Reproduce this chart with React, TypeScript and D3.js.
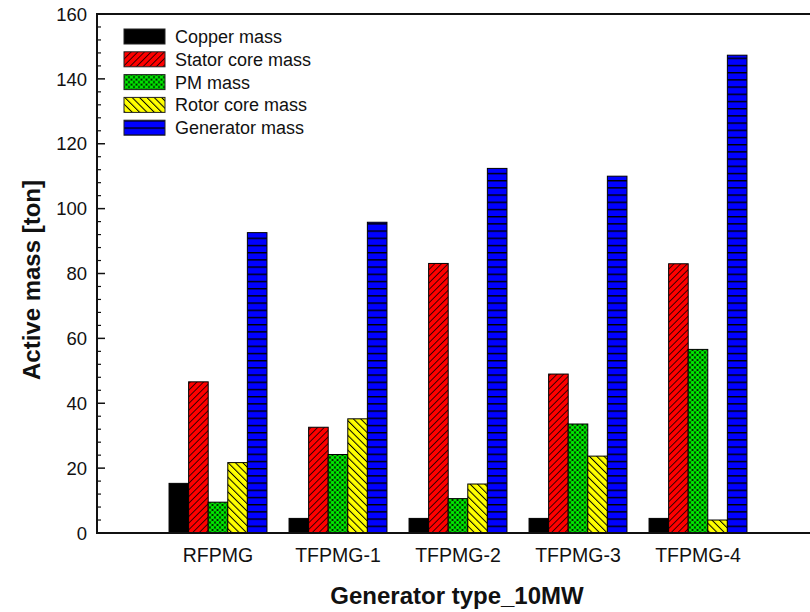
import React from "react";
import * as d3 from "d3";

const categories = ["RFPMG", "TFPMG-1", "TFPMG-2", "TFPMG-3", "TFPMG-4"];
const seriesNames = ["Copper mass", "Stator core mass", "PM mass", "Rotor core mass", "Generator mass"];
const copperMass = [15.3, 4.5, 4.5, 4.5, 4.5];
const statorCoreMass = [46.6, 32.6, 83.1, 49.0, 83.0];
const pmMass = [9.5, 24.2, 10.6, 33.6, 56.6];
const rotorCoreMass = [21.7, 35.2, 15.1, 23.7, 4.0];
const generatorMass = [92.6, 95.8, 112.4, 110.0, 147.3];
const yTicks = [0, 20, 40, 60, 80, 100, 120, 140, 160];

const W = 810;
const H = 612;
const left = 97;
const top = 14;
const bottom = 533;

export default function App() {
  const series = [copperMass, statorCoreMass, pmMass, rotorCoreMass, generatorMass];
  const fills = ["#000000", "url(#pStator)", "url(#pPM)", "url(#pRotor)", "url(#pGen)"];
  const y = d3.scaleLinear().domain([0, 160]).range([bottom, top]);
  const x = d3.scaleLinear().domain([0, 6]).range([left + 1, left + 721]);
  const inner = d3.scaleBand().domain(seriesNames).range([-0.408, 0.408]).padding(0);
  const minorTicks = d3.range(0, 161, 4).filter((v) => v % 20 !== 0);
  const font = "'Liberation Sans', Arial, sans-serif";

  return (
    <svg width={W} height={H} style={{ position: "absolute", left: 0, top: 0, background: "#fff" }}>
      <defs>
        <pattern id="pStator" patternUnits="userSpaceOnUse" width={4.7} height={4.7} patternTransform="rotate(45)">
          <rect width={4.7} height={4.7} fill="#ff0000" />
          <line x1={0} y1={0} x2={0} y2={4.7} stroke="#000" strokeWidth={1.5} />
        </pattern>
        <pattern id="pRotor" patternUnits="userSpaceOnUse" width={5.2} height={5.2} patternTransform="rotate(-45)">
          <rect width={5.2} height={5.2} fill="#ffff00" />
          <line x1={0} y1={0} x2={0} y2={5.2} stroke="#000" strokeWidth={2} />
        </pattern>
        <pattern id="pGen" patternUnits="userSpaceOnUse" width={8} height={7.2}>
          <rect width={8} height={7.2} fill="#0000ff" />
          <line x1={0} y1={0.7} x2={8} y2={0.7} stroke="#000" strokeWidth={1.4} />
        </pattern>
        <pattern id="pPM" patternUnits="userSpaceOnUse" width={5} height={5}>
          <rect width={5} height={5} fill="#000" />
          <circle cx={0} cy={0} r={1.8} fill="#00e600" />
          <circle cx={5} cy={0} r={1.8} fill="#00e600" />
          <circle cx={0} cy={5} r={1.8} fill="#00e600" />
          <circle cx={5} cy={5} r={1.8} fill="#00e600" />
          <circle cx={2.5} cy={2.5} r={1.8} fill="#00e600" />
        </pattern>
      </defs>

      {/* bars */}
      {categories.map((c, ci) =>
        series.map((s, si) => {
          const x0 = x(ci + 1 + (inner(seriesNames[si]) as number));
          const x1 = x(ci + 1 + (inner(seriesNames[si]) as number) + inner.bandwidth());
          return (
            <rect
              key={c + si}
              x={x0}
              y={y(s[ci])}
              width={x1 - x0}
              height={bottom - y(s[ci])}
              fill={fills[si]}
              stroke="#000"
              strokeWidth={1}
            />
          );
        })
      )}

      {/* frame */}
      <line x1={left} y1={top} x2={W + 10} y2={top} stroke="#111" strokeWidth={2} />
      <line x1={left} y1={bottom} x2={W + 10} y2={bottom} stroke="#111" strokeWidth={2} />
      <line x1={left} y1={top - 1} x2={left} y2={bottom + 1} stroke="#111" strokeWidth={2} />

      {/* y ticks */}
      {yTicks.map((t) => (
        <g key={t}>
          <line x1={left} x2={left + 8} y1={y(t)} y2={y(t)} stroke="#111" strokeWidth={1.5} />
          <text x={87} y={y(t)} dy="0.36em" textAnchor="end" fontFamily={font} fontSize={18.5} fill="#111">
            {t}
          </text>
        </g>
      ))}
      {minorTicks.map((t) => (
        <line key={"m" + t} x1={left} x2={left + 4} y1={y(t)} y2={y(t)} stroke="#111" strokeWidth={1.2} />
      ))}

      {/* category labels */}
      {categories.map((c, ci) => (
        <text key={c} x={x(ci + 1)} y={561.5} textAnchor="middle" fontFamily={font} fontSize={19.5} fill="#111">
          {c}
        </text>
      ))}

      {/* axis titles */}
      <text x={457} y={604} textAnchor="middle" fontFamily={font} fontSize={24} fontWeight="bold" fill="#111">
        Generator type_10MW
      </text>
      <text
        transform={`translate(40,280) rotate(-90)`}
        textAnchor="middle"
        fontFamily={font}
        fontSize={24}
        fontWeight="bold"
        fill="#111"
      >
        Active mass [ton]
      </text>

      {/* legend */}
      {seriesNames.map((n, i) => (
        <g key={n} transform={`translate(124,${29 + i * 22.8})`}>
          <rect width={41} height={15} fill={fills[i]} stroke="#222" strokeWidth={1} />
          <text x={51} y={7.5} dy="0.36em" fontFamily={font} fontSize={18} fill="#111">
            {n}
          </text>
        </g>
      ))}
    </svg>
  );
}
